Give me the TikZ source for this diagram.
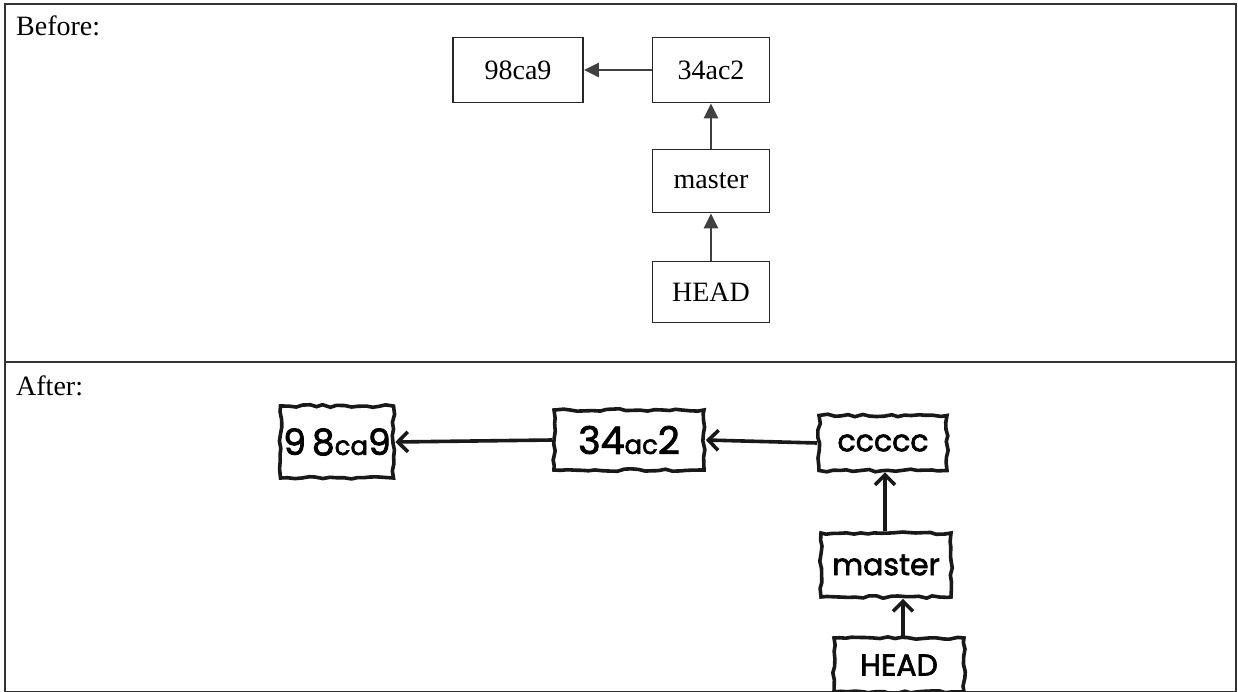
\documentclass[tikz,border=0pt]{standalone}
\usepackage{fontspec}
\setmainfont{Liberation Serif}
\newfontfamily\hand[FakeBold=2.2]{Poppins}
\usetikzlibrary{arrows.meta,decorations.pathmorphing}
\newcommand{\smallhand}[1]{{\fontsize{26}{28}\selectfont #1}}
\begin{document}
\begin{tikzpicture}[x=1pt,y=-1pt,
  tbox/.style={draw=black!85,line width=1.8pt,rectangle,inner sep=0pt,font=\fontsize{28}{30}\selectfont},
  tarrow/.style={draw=black!75,line width=2.6pt,-{Triangle[length=15pt,width=14pt]}},
  hbox/.style={draw=black!90,line width=3.6pt,rectangle,inner sep=0pt,
     decorate,decoration={random steps,segment length=7pt,amplitude=1.3pt},
     font=\hand\fontsize{36}{38}\selectfont},
  harrow/.style={draw=black!90,line width=3.6pt,-{Straight Barb[length=10pt,width=20pt,line width=3.6pt]}},
  lbl/.style={anchor=west,inner sep=0pt,font=\fontsize{28}{30}\selectfont}]
\pgfmathsetseed{7}
\useasboundingbox (0,0) rectangle (1238,692);
\fill[white] (0,0) rectangle (1238,692);
% table frame
\draw[line width=1.4pt,black!80] (5,4) rectangle (1236,692);
\draw[line width=1.4pt,black!80] (5,362) -- (1236,362);
\node[lbl] (before) at (16,26) {Before:};
\node[lbl] (after) at (16,386) {After:};
% before
\node[tbox,minimum width=130pt,minimum height=65pt] (n98) at (518,70) {98ca9};
\node[tbox,minimum width=117pt,minimum height=65pt] (n34) at (711,70) {34ac2};
\node[tbox,minimum width=117pt,minimum height=63pt] (nm) at (711,181) {master};
\node[tbox,minimum width=117pt,minimum height=61pt] (nh) at (711,292) {HEAD};
\draw[tarrow] (n34) -- (n98);
\draw[tarrow] (nm) -- (n34);
\draw[tarrow] (nh) -- (nm);
% after
\node[hbox,minimum width=113pt,minimum height=72pt] (h98) at (337,442) {9\,8\smallhand{ca}9};
\node[hbox,minimum width=150pt,minimum height=60pt,font=\hand\fontsize{38}{40}\selectfont] (h34) at (629,440) {34\smallhand{ac}2};
\node[hbox,minimum width=128pt,minimum height=55pt,font=\hand\fontsize{30}{32}\selectfont] (hc) at (883,443) {ccccc};
\node[hbox,minimum width=130pt,minimum height=64pt,font=\hand\fontsize{30}{32}\selectfont] (hm) at (886,565) {master};
\node[hbox,minimum width=130pt,minimum height=54pt,font=\hand\fontsize{30}{32}\selectfont] (hh) at (899,665) {HEAD};
\draw[harrow] (h34.west) -- (h98.east);
\draw[harrow] (hc.west) -- (h34.east);
\draw[harrow] (hm.north -| 885,0) -- (hc.south -| 885,0);
\draw[harrow] (hh.north -| 903,0) -- (hm.south -| 903,0);
\end{tikzpicture}
\end{document}
